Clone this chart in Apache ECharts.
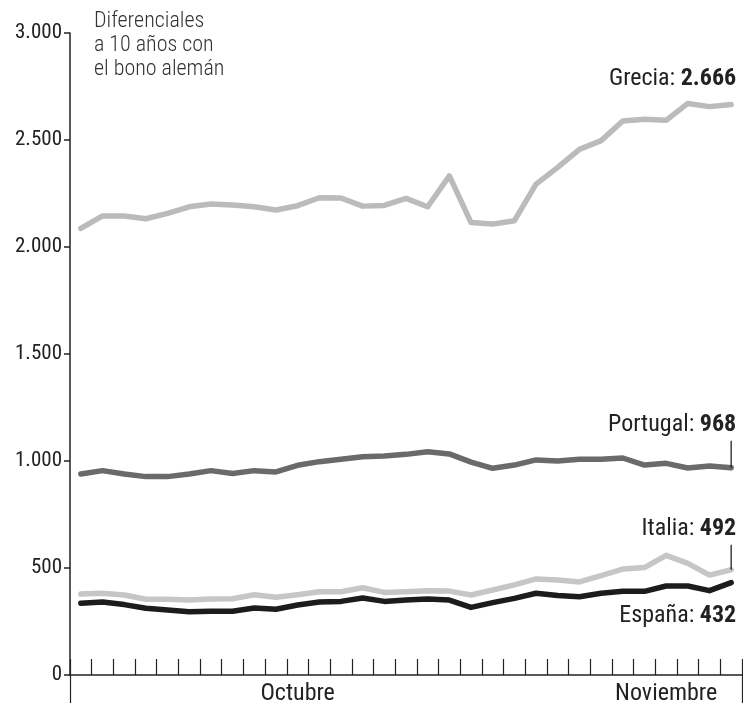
<!DOCTYPE html>
<html>
<head>
<meta charset="utf-8">
<script src="https://cdn.jsdelivr.net/npm/echarts@6/dist/echarts.min.js"></script>
<style>
  html, body { margin: 0; padding: 0; background: #fff; }
  #chart { width: 743px; height: 706px; }
</style>
</head>
<body>
<div id="chart"></div>
<script>
// one category per trading day, 23 in October and 8 in November
const days = [];
for (let i = 1; i <= 31; i++) days.push('d' + i);
const novStart = 23;
const monthLabels = { 10: 'Octubre', 27: 'Noviembre' };

const grecia = [2087, 2145, 2145, 2132, 2157, 2188, 2201, 2196, 2188, 2173, 2193, 2230, 2229, 2191, 2194, 2227,
  2188, 2332, 2114, 2107, 2123, 2294, 2372, 2456, 2497, 2589, 2597, 2592, 2671, 2656, 2666];
const portugal = [939, 955, 939, 927, 927, 939, 955, 942, 955, 949, 980, 997, 1008, 1020, 1023, 1031,
  1043, 1033, 995, 966, 981, 1005, 1000, 1008, 1008, 1014, 981, 989, 967, 977, 968];
const italia = [378, 382, 374, 354, 354, 350, 355, 356, 375, 363, 375, 389, 389, 408, 386, 389,
  394, 392, 374, 397, 421, 449, 444, 435, 464, 495, 502, 559, 522, 467, 492];
const espana = [335, 341, 329, 312, 304, 296, 298, 298, 313, 307, 327, 341, 344, 360, 344, 350,
  355, 350, 316, 338, 358, 382, 372, 366, 382, 391, 391, 416, 416, 394, 432];

const yTicks = [0, 500, 1000, 1500, 2000, 2500, 3000];

const FONT = '"Roboto Condensed", "Open Sans", sans-serif';

let fmt = (v) => String(v).replace(/\B(?=(\d{3})+(?!\d))/g, '.');

let makeSeries = (name, data, color, width, z, lbl) => {
  let last = data.length - 1;
  return {
    name: name,
    type: 'line',
    data: data,
    symbol: 'none',
    z: z,
    lineStyle: { color: color, width: width, cap: 'round', join: 'round' },
    markPoint: {
      silent: true,
      animation: false,
      symbol: 'rect',
      symbolSize: [1.3, lbl.lead],
      symbolOffset: [0, -lbl.lead / 2],
      itemStyle: { color: '#222' },
      data: [{ coord: [last, data[last]] }],
      label: {
        show: true,
        position: lbl.pos,
        distance: lbl.dist,
        align: 'right',
        offset: [5, 0],
        formatter: () => '{n|' + name + ': }{b|' + fmt(data[last]) + '}',
        rich: {
          n: { fontFamily: FONT, fontSize: 24, color: '#222' },
          b: { fontFamily: FONT, fontSize: 24, fontWeight: 'bold', color: '#222' }
        }
      }
    }
  };
};

let chart = echarts.init(document.getElementById('chart'), null, { renderer: 'canvas' });

let option = {
  animation: false,
  backgroundColor: '#fff',
  grid: { left: 70, right: 1, top: 33, bottom: 31, containLabel: false },
  graphic: [{
    type: 'text',
    left: 94,
    top: 9,
    style: {
      text: 'Diferenciales\na 10 años con\nel bono alemán',
      fontFamily: FONT,
      fontWeight: 300,
      fontSize: 22,
      lineHeight: 24,
      fill: '#333'
    }
  }],
  xAxis: [{
    type: 'category',
    data: days,
    boundaryGap: true,
    axisLine: { show: true, lineStyle: { color: '#222', width: 1.5 } },
    axisTick: { show: true, inside: true, length: 16, interval: 0, lineStyle: { color: '#222', width: 1.2 } },
    axisLabel: {
      show: true,
      interval: 0,
      margin: 7,
      fontFamily: FONT,
      fontSize: 24,
      color: '#222',
      formatter: (v, i) => monthLabels[i] || ''
    }
  }, {
    type: 'category',
    data: days,
    position: 'bottom',
    boundaryGap: true,
    axisLine: { show: false },
    axisTick: {
      show: true,
      inside: false,
      length: 28,
      interval: (i) => i === novStart,
      lineStyle: { color: '#222', width: 1.2 }
    },
    axisLabel: { show: false }
  }],
  yAxis: {
    type: 'value',
    min: 0,
    max: 3000,
    interval: 500,
    splitLine: { show: false },
    axisLine: { show: true, lineStyle: { color: '#222', width: 1.5 } },
    axisTick: { show: true, inside: false, length: 6, lineStyle: { color: '#222', width: 1.5 } },
    axisLabel: {
      margin: 8,
      fontFamily: FONT,
      fontSize: 21,
      color: '#222',
      formatter: (v) => yTicks.indexOf(v) >= 0 ? fmt(v) : ''
    }
  },
  series: [
    makeSeries('Grecia', grecia, '#bbbbbb', 5.5, 2, { lead: 0.01, pos: 'top', dist: 13 }),
    makeSeries('Portugal', portugal, '#6a6a6a', 5.5, 3, { lead: 27, pos: 'top', dist: 4 }),
    makeSeries('Italia', italia, '#c6c6c6', 5.5, 4, { lead: 25, pos: 'top', dist: 4 }),
    makeSeries('España', espana, '#1c1c1c', 5.5, 5, { lead: 0.01, pos: 'bottom', dist: 21 })
  ]
};

chart.setOption(option);
</script>
</body>
</html>
